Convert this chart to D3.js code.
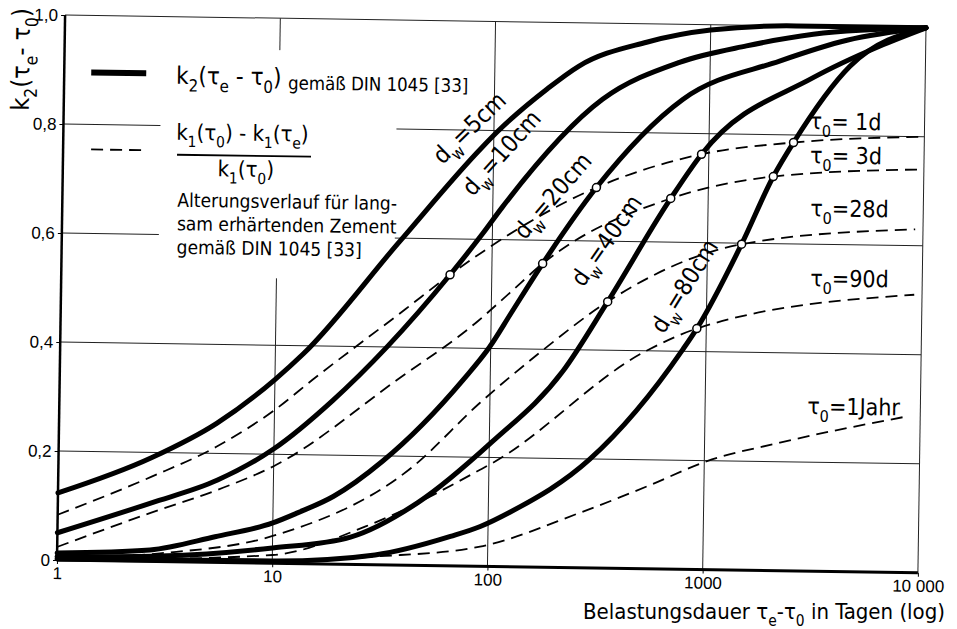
<!DOCTYPE html>
<html>
<head>
<meta charset="utf-8">
<script src="https://cdn.jsdelivr.net/npm/d3@7"></script>
<style>
body { margin: 0; background: #fff; }
svg { display: block; font-family: "DejaVu Sans Condensed", "DejaVu Sans", sans-serif; font-stretch: condensed; }
</style>
</head>
<body>
<svg id="chart" width="957" height="629"></svg>
<script>
// values: [days under load, value]
// solid curves k2(te - t0) for the member thickness dw
var dw5 = [[1, 0.123], [2.7, 0.19], [5.4, 0.255], [10, 0.337], [13.5, 0.385], [37, 0.593], [88, 0.768], [104, 0.798], [175, 0.877], [245, 0.92], [505, 0.966], [1000, 0.99], [2500, 1.0], [10000, 1.0]];
var dw10 = [[1, 0.05], [2.7, 0.107], [5.5, 0.151], [10, 0.21], [18.6, 0.3], [33, 0.4], [64, 0.534], [90, 0.61], [111, 0.66], [318, 0.86], [720, 0.93], [1470, 0.962], [3000, 0.985], [10000, 1.0]];
var dw20 = [[1, 0.013], [2.7, 0.021], [5.4, 0.047], [10, 0.074], [13, 0.093], [19, 0.124], [32, 0.19], [75, 0.342], [99, 0.403], [124, 0.466], [172, 0.557], [302, 0.698], [750, 0.862], [2100, 0.935], [4300, 0.975], [10000, 1.0]];
var dw40 = [[1, 0.006], [3, 0.01], [10, 0.028], [23, 0.05], [47, 0.115], [102, 0.227], [217, 0.36], [347, 0.489], [670, 0.68], [925, 0.762], [3000, 0.905], [6100, 0.965], [10000, 1.0]];
var dw80 = [[1, 0.002], [10, 0.004], [30, 0.018], [67, 0.054], [92, 0.073], [126, 0.1], [293, 0.199], [780, 0.403], [904, 0.442], [1440, 0.598], [2000, 0.723], [2470, 0.786], [4450, 0.927], [10000, 1.0]];

// dashed ageing curves for the age at loading t0
var tau1d = [[1, 0.083], [2.7, 0.155], [5.4, 0.212], [10, 0.281], [15, 0.338], [40, 0.47], [64, 0.534], [302, 0.698], [925, 0.762], [2470, 0.786], [9800, 0.8]];
var tau3d = [[1, 0.024], [2.7, 0.089], [5.5, 0.133], [10, 0.178], [37, 0.34], [87, 0.45], [122, 0.503], [172, 0.557], [670, 0.68], [2000, 0.723], [9800, 0.74]];
var tau28d = [[1, 0.003], [3, 0.015], [10, 0.05], [44, 0.18], [90, 0.3], [165, 0.39], [347, 0.489], [1440, 0.598], [9200, 0.63]];
var tau90d = [[1, 0.0], [10, 0.015], [27, 0.07], [91, 0.177], [104, 0.19], [530, 0.4], [904, 0.442], [9200, 0.51]];
var tau1y = [[1, 0.0], [10, 0.003], [30, 0.015], [92, 0.036], [267, 0.101], [543, 0.151], [1030, 0.199], [2240, 0.235], [8300, 0.285]];

// crossings marked with small open circles
var markers = [[64, 0.534], [172, 0.557], [302, 0.698], [347, 0.489], [670, 0.68], [925, 0.762], [904, 0.442], [1440, 0.598], [2000, 0.723], [2470, 0.786]];

var dwNames = ["5", "10", "20", "40", "80"];
var tauNames = ["= 1d", "= 3d", "=28d", "=90d", "=1Jahr"];
var xTicks = [1, 10, 100, 1000, 10000];
var xTickLabels = ["1", "10", "100", "1000", "10 000"];
var yTicks = [0, 0.2, 0.4, 0.6, 0.8, 1.0];
var yTickLabels = ["0", "0,2", "0,4", "0,6", "0,8", "1,0"];

var width = 861,
  height = 545;

var svg = d3.select("#chart");

//the scan is turned a little, so the plot is turned with it
var g = svg
  .append("g")
  .attr("transform", "translate(57,560) rotate(0.85) translate(0,-545)");

var x = d3.scaleLog().domain([1, 10000]).range([0, width]);
var y = d3.scaleLinear().domain([0, 1]).range([height, 0]);

//grid
g.selectAll(".vgrid")
  .data(xTicks.slice(1))
  .enter()
  .append("line")
  .attr("x1", d => x(d))
  .attr("x2", d => x(d))
  .attr("y1", y(0))
  .attr("y2", y(1))
  .attr("stroke", "#222")
  .attr("stroke-width", 1);

g.selectAll(".hgrid")
  .data(yTicks.slice(1))
  .enter()
  .append("line")
  .attr("x1", x(1))
  .attr("x2", x(10000))
  .attr("y1", d => y(d))
  .attr("y2", d => y(d))
  .attr("stroke", "#222")
  .attr("stroke-width", 1);

//the legend sits on a blank patch of the grid
g.append("rect")
  .attr("x", 97)
  .attr("y", 32)
  .attr("width", 236)
  .attr("height", 228)
  .attr("fill", "#fff");

//axes
var yAxis = d3
  .axisLeft(y)
  .tickValues(yTicks)
  .tickFormat((d, i) => yTickLabels[i])
  .tickSize(4)
  .tickPadding(3);
var yAxisG = g.append("g").call(yAxis);
yAxisG.select(".domain").attr("stroke-width", 2.5).attr("d", "M0," + y(0) + "V" + y(1));
yAxisG.selectAll("text").attr("font-size", 17).attr("font-family", null).attr("fill", "#000");

var xAxis = d3
  .axisBottom(x)
  .tickValues(xTicks)
  .tickFormat((d, i) => xTickLabels[i])
  .tickSize(4)
  .tickPadding(3);
var xAxisG = g.append("g").attr("transform", "translate(0," + height + ")").call(xAxis);
xAxisG.select(".domain").attr("stroke-width", 3).attr("d", "M0,0H" + width);
xAxisG.selectAll("text").attr("font-size", 17).attr("font-family", null).attr("fill", "#000");

//curves
var line = d3
  .line()
  .x(d => x(d[0]))
  .y(d => y(d[1]))
  .curve(d3.curveMonotoneX);

var tauSeries = [tau1d, tau3d, tau28d, tau90d, tau1y];
g.selectAll(".tau")
  .data(tauSeries)
  .enter()
  .append("path")
  .attr("d", line)
  .attr("fill", "none")
  .attr("stroke", "#000")
  .attr("stroke-width", 1.8)
  .attr("stroke-dasharray", "12,7");

var dwSeries = [dw5, dw10, dw20, dw40, dw80];
g.selectAll(".dw")
  .data(dwSeries)
  .enter()
  .append("path")
  .attr("d", line)
  .attr("fill", "none")
  .attr("stroke", "#000")
  .attr("stroke-width", 5)
  .attr("stroke-linecap", "round");

g.selectAll(".marker")
  .data(markers)
  .enter()
  .append("circle")
  .attr("cx", d => x(d[0]))
  .attr("cy", d => y(d[1]))
  .attr("r", 4)
  .attr("fill", "#fff")
  .attr("stroke", "#000")
  .attr("stroke-width", 1.5);

//text with subscripts, parts are [text, isSubscript]
function addParts(textSel, parts, size) {
  var shift = 0;
  parts.forEach(function(p) {
    var target = p[1] ? size * 0.32 : 0;
    var ts = textSel.append("tspan").text(p[0]).attr("dy", target - shift);
    if (p[1]) ts.attr("font-size", size * 0.7);
    shift = target;
  });
}

//labels along the solid curves
var dwLabelPos = [[413, 114, -45], [446, 138, -49], [498, 180, -50], [553, 223, -56], [632, 267, -59]];
dwNames.forEach(function(n, i) {
  var p = dwLabelPos[i];
  var a = (p[2] * Math.PI) / 180;
  var px = p[0] + 2 * Math.sin(a),
    py = p[1] - 2 * Math.cos(a);
  var t = g
    .append("text")
    .attr("text-anchor", "middle")
    .attr("font-size", 24)
    .attr("transform", "translate(" + px + "," + py + ") rotate(" + p[2] + ")")
    .attr("dy", "0.35em");
  addParts(t, [["d", false], ["w", true], ["=" + n + "cm", false]], 24);
});

//labels at the end of the dashed curves
var tauLabelPos = [[746, 103], [747, 137], [748, 190], [749, 260], [748, 388]];
tauNames.forEach(function(n, i) {
  var t = g
    .append("text")
    .attr("x", tauLabelPos[i][0])
    .attr("y", tauLabelPos[i][1])
    .attr("font-size", 23);
  addParts(t, [["τ", false], ["0", true], [n, false]], 23);
});

//legend
g.append("line")
  .attr("x1", 27).attr("x2", 82)
  .attr("y1", 57).attr("y2", 57)
  .attr("stroke", "#000").attr("stroke-width", 6);
g.append("line")
  .attr("x1", 28).attr("x2", 84)
  .attr("y1", 134).attr("y2", 134)
  .attr("stroke", "#000").attr("stroke-width", 1.8)
  .attr("stroke-dasharray", "12,7");

var lt = g.append("text").attr("x", 112).attr("y", 67).attr("font-size", 24);
addParts(lt, [["k", false], ["2", true], ["(τ", false], ["e", true], [" - τ", false], ["0", true], [")", false]], 24);
g.append("text").attr("x", 224).attr("y", 71).attr("font-size", 18.5).text("gemäß DIN 1045 [33]");

var num = g.append("text").attr("x", 113).attr("y", 123).attr("font-size", 22);
addParts(num, [["k", false], ["1", true], ["(τ", false], ["0", true], [") - k", false], ["1", true], ["(τ", false], ["e", true], [")", false]], 22);
g.append("line")
  .attr("x1", 114).attr("x2", 248)
  .attr("y1", 138).attr("y2", 138)
  .attr("stroke", "#000").attr("stroke-width", 1.8);
var den = g.append("text").attr("x", 183).attr("y", 159).attr("font-size", 22).attr("text-anchor", "middle");
addParts(den, [["k", false], ["1", true], ["(τ", false], ["0", true], [")", false]], 22);

var legendLines = ["Alterungsverlauf  für lang-", "sam erhärtenden Zement", "gemäß DIN 1045 [33]"];
g.selectAll(".legline")
  .data(legendLines)
  .enter()
  .append("text")
  .attr("x", 115)
  .attr("y", (d, i) => 190 + i * 23.5)
  .attr("font-size", 19)
  .text(d => d);

//axis titles
var xt = svg.append("text").attr("x", 945).attr("y", 619).attr("text-anchor", "end").attr("font-size", 22);
addParts(xt, [["Belastungsdauer  τ", false], ["e", true], ["-τ", false], ["0", true], [" in Tagen (log)", false]], 22);

var yt = g
  .append("text")
  .attr("transform", "translate(-35,45) rotate(-90)")
  .attr("text-anchor", "middle")
  .attr("font-size", 25);
addParts(yt, [["k", false], ["2", true], ["(τ", false], ["e", true], ["- τ", false], ["0", true], [")", false]], 25);
</script>
</body>
</html>
